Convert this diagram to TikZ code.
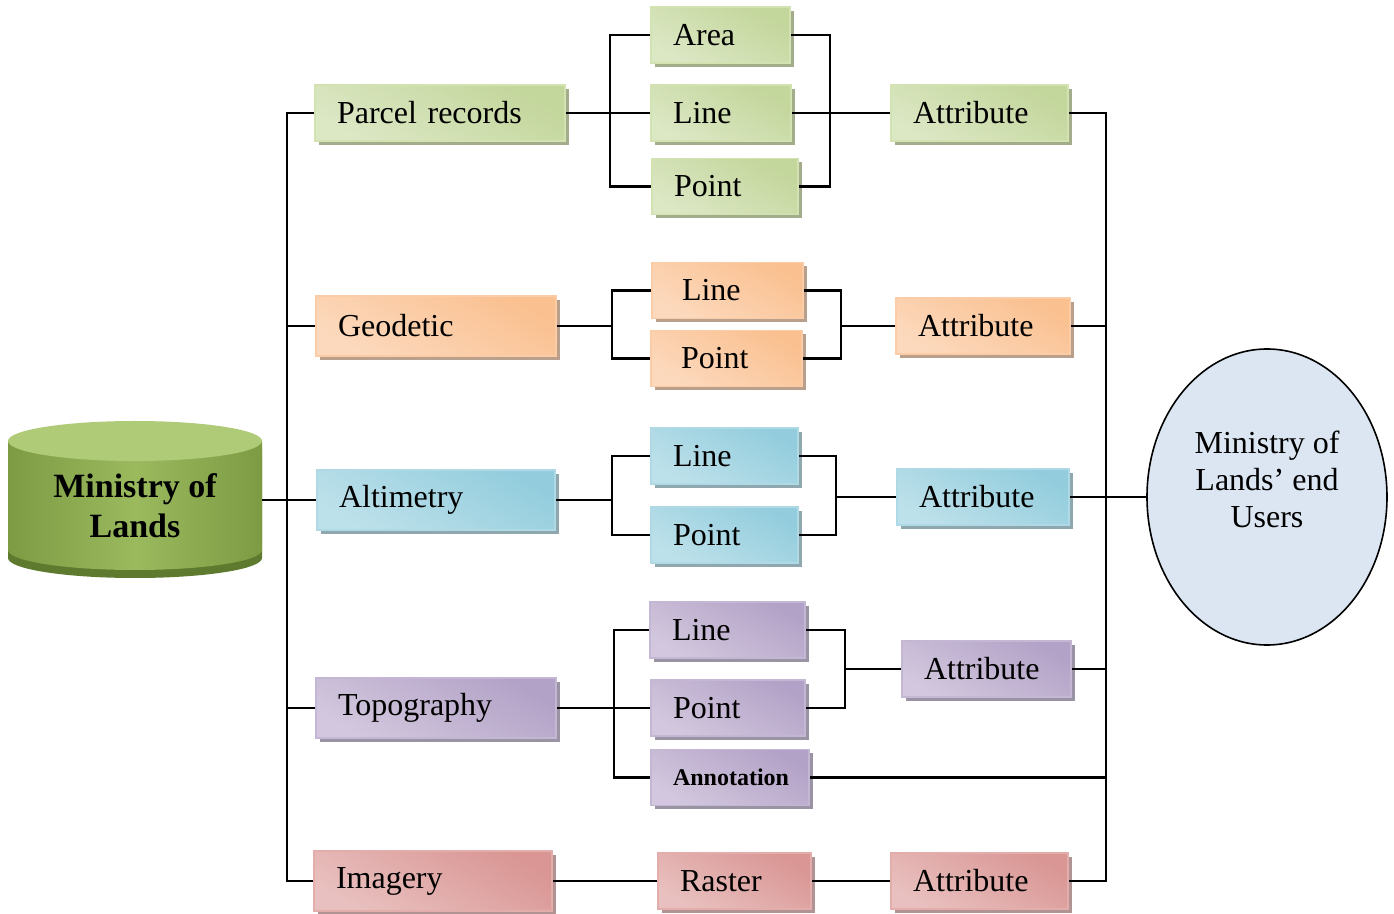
\documentclass[tikz,border=0pt]{standalone}
\usepackage{fontspec}
\setmainfont{Liberation Serif}
\usetikzlibrary{shapes.geometric,shadows}

% box tints: D = dark corner, L = light middle, B = border, S = shadow
\definecolor{grnD}{HTML}{C3D69B}
\definecolor{grnL}{HTML}{F0F5E6}
\definecolor{grnB}{HTML}{D2E2B0}
\definecolor{grnS}{HTML}{A3AD8C}
\definecolor{orgD}{HTML}{FAC090}
\definecolor{orgL}{HTML}{FEEEE2}
\definecolor{orgB}{HTML}{FBCCA6}
\definecolor{orgS}{HTML}{B8A08C}
\definecolor{bluD}{HTML}{93CDDD}
\definecolor{bluL}{HTML}{E0F1F5}
\definecolor{bluB}{HTML}{AFDAE5}
\definecolor{bluS}{HTML}{8FA7AE}
\definecolor{purD}{HTML}{B3A2C7}
\definecolor{purL}{HTML}{EBE6F0}
\definecolor{purB}{HTML}{C4B7D4}
\definecolor{purS}{HTML}{9A93A3}
\definecolor{redD}{HTML}{D99694}
\definecolor{redL}{HTML}{F5E3E2}
\definecolor{redB}{HTML}{E2ADAB}
\definecolor{redS}{HTML}{B09392}
% drum colours
\definecolor{molE}{HTML}{7C9B43}
\definecolor{molG}{HTML}{9BBA5E}
\definecolor{molT}{HTML}{AFCB78}
\definecolor{molS}{HTML}{5E7A2E}
\definecolor{usrF}{HTML}{DCE6F2}

\begin{document}
\begin{tikzpicture}[x=0.5pt,y=-0.5pt,
  every node/.style={font=\fontsize{16}{18.5}\selectfont},
  box/.style={rectangle, inner xsep=11pt, inner ysep=0pt, align=left,
    minimum height=28pt, draw=#1B, line width=0.8pt,
    top color=#1D, middle color=#1L, bottom color=#1L!55!#1D, shading angle=-30,
    drop shadow={shadow xshift=2pt, shadow yshift=-2pt, fill=#1S, opacity=1}},
  drumcap/.style={x radius=63.5pt, y radius=10pt},
  link/.style={line width=1.25pt}]
\useasboundingbox (0,0) rectangle (1394,914);

% drum: dark rim, body, top face
\fill[molS] (8,449) -- (8,558) arc[start angle=180, end angle=360, drumcap] -- (262,449) -- cycle;
\shade[left color=molE, right color=molE, middle color=molG]
  (8,441) -- (8,550) arc[start angle=180, end angle=360, drumcap] -- (262,441) -- cycle;
\fill[molT] (135,441) ellipse [drumcap];
\node (mol) at (135,506) [minimum width=127pt, minimum height=60pt, align=center,
  font=\fontsize{17}{20}\selectfont\bfseries] {Ministry of\\Lands};

% end users
\node (users) at (1267,497) [ellipse, draw, line width=0.8pt, fill=usrF,
  minimum width=120pt, minimum height=148pt, align=center, text depth=18pt]
  {Ministry of\\Lands' end\\Users};

% parcel records
\node (parcel) at (440,113) [box=grn, text width=103pt] {Parcel records};
\node (area) at (720.5,35) [box=grn, text width=47.5pt] {Area};
\node (lineA) at (721,113) [box=grn, text width=48pt] {Line};
\node (pointA) at (725,186.5) [box=grn, text width=51pt] {Point};
\node (attrA) at (979.5,113) [box=grn, text width=66.5pt] {Attribute};

% geodetic
\node (geo) at (436,326) [box=org, minimum height=30pt, text width=98pt] {Geodetic};
\node (lineB) at (727.5,290.5) [box=org, inner xsep=15pt, text width=45.5pt] {Line};
\node (pointB) at (726.5,358.5) [box=org, inner xsep=15pt, text width=45.5pt] {Point};
\node (attrB) at (983,326) [box=org, text width=65pt] {Attribute};

% altimetry
\node (alti) at (436,500) [box=blu, minimum height=30pt, text width=97pt] {Altimetry};
\node (lineC) at (724.5,456) [box=blu, text width=51.5pt] {Line};
\node (pointC) at (724.5,535) [box=blu, text width=51.5pt] {Point};
\node (attrC) at (983,497) [box=blu, text width=64pt] {Attribute};

% topography
\node (topo) at (436,708) [box=pur, minimum height=30pt, text width=98pt] {Topography};
\node (lineD) at (727.5,630) [box=pur, text width=55.5pt] {Line};
\node (pointD) at (728,708) [box=pur, text width=55pt] {Point};
\node (annot) at (730,777.5) [box=pur, text width=57pt,
  font=\fontsize{12}{14}\selectfont\bfseries] {Annotation};
\node (attrD) at (986.5,669) [box=pur, text width=62.5pt] {Attribute};

% imagery
\node (imag) at (433,881) [box=red, minimum height=30pt, text width=97pt] {Imagery};
\node (raster) at (734.5,881) [box=red, text width=54.5pt] {Raster};
\node (attrE) at (979.5,881) [box=red, text width=66.5pt] {Attribute};

% junction points of the buses
\coordinate (lb) at (287,500);
\coordinate (rb) at (1106,497);
\coordinate (jA) at (610,113);
\coordinate (kA) at (830,113);
\coordinate (jB) at (612,326);
\coordinate (kB) at (841,326);
\coordinate (jC) at (612,500);
\coordinate (kC) at (836,497);
\coordinate (jD) at (614,708);
\coordinate (kD) at (845,669);

% left bus
\draw[link] (parcel.west) -| (lb) |- (imag.west);
\draw[link] (geo.west) -- (geo.west -| lb);
\draw[link] (topo.west) -- (topo.west -| lb);
\draw[link] (alti.west -| mol.east) -- (alti.west);

% right bus
\draw[link] (attrA.east) -| (rb) |- (attrE.east);
\draw[link] (attrB.east) -- (attrB.east -| rb);
\draw[link] (attrC.east) -- (attrC.east -| rb);
\draw[link] (attrD.east) -- (attrD.east -| rb);
\draw[link] (annot.east) -- (annot.east -| rb);
\draw[link] (rb) -- (users.west);

% parcel records branches
\draw[link] (area.west) -| (jA) |- (pointA.west);
\draw[link] (parcel.east) -- (lineA.west);
\draw[link] (area.east) -| (kA) |- (pointA.east);
\draw[link] (lineA.east) -- (attrA.west);

% geodetic branches
\draw[link] (lineB.west) -| (jB) |- (pointB.west);
\draw[link] (geo.east) -- (jB);
\draw[link] (lineB.east) -| (kB) |- (pointB.east);
\draw[link] (kB) -- (attrB.west);

% altimetry branches
\draw[link] (lineC.west) -| (jC) |- (pointC.west);
\draw[link] (alti.east) -- (jC);
\draw[link] (lineC.east) -| (kC) |- (pointC.east);
\draw[link] (kC) -- (attrC.west);

% topography branches
\draw[link] (lineD.west) -| (jD) |- (annot.west);
\draw[link] (topo.east) -- (pointD.west);
\draw[link] (lineD.east) -| (kD) |- (pointD.east);
\draw[link] (kD) -- (attrD.west);

% imagery chain
\draw[link] (imag.east) -- (raster.west);
\draw[link] (raster.east) -- (attrE.west);
\end{tikzpicture}
\end{document}
